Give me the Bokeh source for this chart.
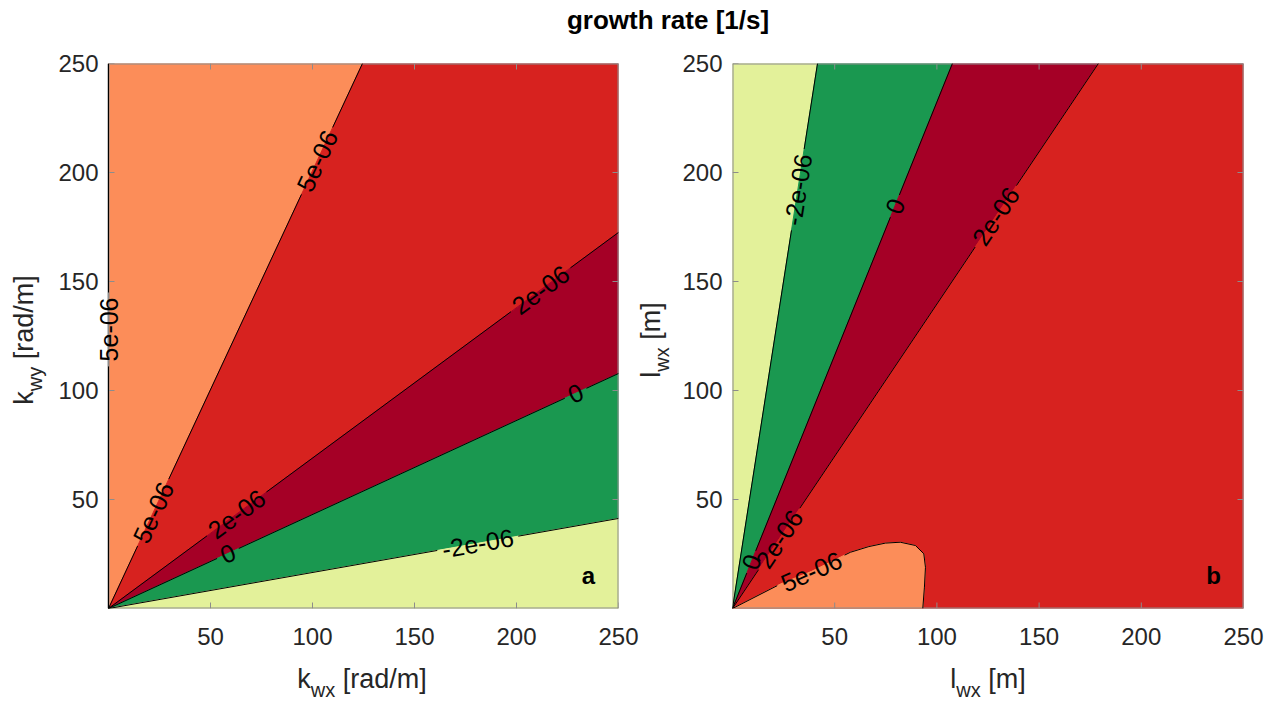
import math
import numpy as np
from bokeh.plotting import figure
from bokeh.models import Range1d, FixedTicker, Label, Div
from bokeh.layouts import row, column
from bokeh.embed import file_html
from bokeh.resources import INLINE
from bokeh.core.properties import value

# ------------------------------------------------------------------ data
title_text = "growth rate [1/s]"
ticks = [50, 100, 150, 200, 250]
axis_max = 250

# panel a : straight contours from the origin, (x, y) where each leaves the frame
a_levels = ["5e-06", "2e-06", "0", "-2e-06"]
a_end_x = [124.5, 250, 250, 250]
a_end_y = [250, 172.5, 107.8, 41.3]
a_fill = ["#FC8D59", "#D7221F", "#A50026", "#1A9850", "#E3F19A"]
a_label_x = [[103, 22], [212, 64.7], [229, 59], [181]]
a_label_y = [[205, 44], [146, 41], [98.7, 24.3], [30]]
a_edge_level = "5e-06"          # contour running along k_wx = 0
a_edge_label_y = [128]
a_tag = "a"
a_xlabel = ("k", "wx", " [rad/m]")
a_ylabel = ("k", "wy", " [rad/m]")

# panel b
b_levels = ["-2e-06", "0", "2e-06"]
b_end_x = [41.6, 107.6, 179]
b_end_y = [250, 250, 250]
b_fill = ["#E3F19A", "#1A9850", "#A50026", "#D7221F"]
b_label_x = [[34.7], [81, 9.6], [128.7, 22.7]]
b_label_y = [[191.7], [184, 21.2], [180, 32]]
b_closed_level = "5e-06"
b_closed_x = [0, 23.6, 38.6, 57.7, 66.7, 74.8, 82.1, 89.5, 93.6, 94.4, 93.9, 93.1]
b_closed_y = [0, 11.3, 17.0, 25.8, 28.4, 30.0, 30.4, 28.9, 25.1, 18.9, 9.8, 0]
b_closed_fill = "#FC8D59"
b_closed_label_x = [38.6]
b_closed_label_y = [17.0]
b_tag = "b"
b_xlabel = ("l", "wx", " [m]")
b_ylabel = ("l", "wx", " [m]")

# ------------------------------------------------------------------ style / layout
FONT = "Liberation Sans"
TICK_FS = 24
LAB_FS = 25
AX_FS = 27
SUB_FS = 20
SUB_SHIFT = 9
GREY = "#8c8c8c"
TXT = "#262626"
TOP_H = 40            # title strip
FIG_H = 620           # figures: page y 40 .. 660
XLAB_H = 702 - TOP_H - FIG_H
FRAME_TOP = 23
FRAME_H = 545
FRAME_W = 510
SX = FRAME_W / axis_max
SY = FRAME_H / axis_max
TICK_LEN = 6
YLAB_A_W = 50
YLAB_B_W = 30
EXT_PX = 12           # panel a: room left of k_wx = 0 for the edge contour label
EXT = EXT_PX / SX

CW = {"k": .5, "l": .222, "w": .722, "x": .5, "y": .5, " ": .278, "[": .278, "]": .278,
      "r": .333, "a": .556, "d": .556, "/": .278, "m": .833, "e": .556, "-": .333}


def text_len(s, size):
    return sum(CW.get(c, .556) for c in s) * size


def contour_pieces(xs, ys, lab_x, lab_y, text, size=LAB_FS, pad=5):
    px = np.asarray(xs, float) * SX
    py = np.asarray(ys, float) * SY
    seg = np.hypot(np.diff(px), np.diff(py))
    s = np.concatenate([[0.0], np.cumsum(seg)])
    L = s[-1]

    def at(t):
        t = min(max(t, 0.0), L)
        i = int(min(np.searchsorted(s, t, side="right") - 1, len(seg) - 1))
        f = (t - s[i]) / seg[i] if seg[i] > 0 else 0.0
        return px[i] + f * (px[i + 1] - px[i]), py[i] + f * (py[i + 1] - py[i])

    def project(qx, qy):
        best = (1e18, 0.0)
        for i in range(len(seg)):
            dx, dy = px[i + 1] - px[i], py[i + 1] - py[i]
            f = ((qx - px[i]) * dx + (qy - py[i]) * dy) / (seg[i] ** 2)
            f = min(max(f, 0.0), 1.0)
            d = math.hypot(px[i] + f * dx - qx, py[i] + f * dy - qy)
            if d < best[0]:
                best = (d, s[i] + f * seg[i])
        return best[1]

    gaps, labels = [], []
    for lx, ly in zip(lab_x, lab_y):
        t0 = project(lx * SX, ly * SY)
        half = text_len(text, size) / 2 + pad
        gaps.append((t0 - half, t0 + half))
        (ax_, ay_), (bx_, by_) = at(t0 - 6), at(t0 + 6)
        ang = math.atan2(by_ - ay_, bx_ - ax_)
        if ang > math.pi / 2 + 1e-9:
            ang -= math.pi
        if ang <= -math.pi / 2:
            ang += math.pi
        cx, cy = at(t0)
        labels.append((cx / SX, cy / SY, text, ang))
    gaps.sort()
    keep, cur = [], 0.0
    for ga, gb in gaps:
        if ga > cur:
            keep.append((cur, ga))
        cur = max(cur, gb)
    if cur < L:
        keep.append((cur, L))
    pieces = []
    for ka, kb in keep:
        pts = [at(ka)] + [(px[i], py[i]) for i in range(len(s)) if ka < s[i] < kb] + [at(kb)]
        pieces.append(([q[0] / SX for q in pts], [q[1] / SY for q in pts]))
    return pieces, labels


def perim(x, y):
    # position along the frame going clockwise from the top-left corner
    if y >= axis_max - 1e-9:
        return x
    return axis_max + (axis_max - y)


def fan_regions(end_x, end_y):
    corners = [(0, axis_max), (axis_max, axis_max), (axis_max, 0)]
    bounds = [(0, axis_max)] + list(zip(end_x, end_y)) + [(axis_max, 0)]
    polys = []
    for i in range(len(bounds) - 1):
        p0, p1 = bounds[i], bounds[i + 1]
        t0, t1 = perim(*p0), perim(*p1)
        mid = [c for c in corners if t0 < perim(*c) < t1]
        pts = [(0, 0), p0] + mid + [p1]
        polys.append(([q[0] for q in pts], [q[1] for q in pts]))
    return polys


def make_fig(width, left, right, x_start=0.0):
    p = figure(width=width, height=FIG_H, output_backend="svg", toolbar_location=None,
               x_range=Range1d(x_start, axis_max), y_range=Range1d(0, axis_max),
               min_border_left=left, min_border_right=right,
               min_border_top=FRAME_TOP, min_border_bottom=FIG_H - FRAME_TOP - FRAME_H)
    p.grid.visible = False
    p.outline_line_color = None
    p.background_fill_color = "white"
    p.border_fill_color = "white"
    for ax in (p.xaxis[0], p.yaxis[0]):
        ax.ticker = FixedTicker(ticks=ticks)
        ax.major_tick_in = 0
        ax.major_tick_out = 0
        ax.minor_tick_line_color = None
        ax.axis_line_color = None
        ax.major_label_text_font = FONT
        ax.major_label_text_font_size = f"{TICK_FS}px"
        ax.major_label_text_color = TXT
    p.xaxis[0].major_label_standoff = 19
    p.yaxis[0].major_label_standoff = 10 - int(round(-x_start * SX))
    return p


def box(p):
    # frame edges and inward tick marks on all four sides, at the tick values
    m = axis_max
    p.multi_line(xs=[[0, m], [0, m], [m, m], [0, 0]], ys=[[0, 0], [m, m], [0, m], [0, m]],
                 line_color=GREY, line_width=2)
    n = len(ticks)
    p.segment(x0=ticks + ticks, y0=[m] * n + [0] * n, x1=ticks + ticks,
              y1=[m - TICK_LEN / SY] * n + [TICK_LEN / SY] * n, line_color=GREY, line_width=1)
    p.segment(x0=[m] * n + [0] * n, y0=ticks + ticks, x1=[m - TICK_LEN / SX] * n + [TICK_LEN / SX] * n,
              y1=ticks + ticks, line_color=GREY, line_width=1)


def draw_text_labels(p, labels):
    if not labels:
        return
    p.text(x=[l[0] for l in labels], y=[l[1] for l in labels], text=[l[2] for l in labels],
           angle=[l[3] for l in labels], text_align="center", text_baseline="middle",
           text_font=value(FONT), text_font_size=f"{LAB_FS}px", text_color="black")


def draw_lines(p, pieces):
    p.multi_line(xs=[q[0] for q in pieces], ys=[q[1] for q in pieces],
                 line_color="black", line_width=1)


def add_tag(p, text, fx, page_y):
    p.add_layout(Label(x=fx, y=(TOP_H + FRAME_TOP + FRAME_H) - page_y, x_units="screen",
                       y_units="screen", text=text, text_font=FONT, text_font_style="bold",
                       text_font_size="24px", text_align="center", text_baseline="middle",
                       text_color="black"))


def label_html(parts):
    main, sub, rest = parts
    return (f'{main}<span style="font-size:{SUB_FS}px;position:relative;top:{SUB_SHIFT}px">'
            f'{sub}</span>{rest}')


TXT_STYLE = (f"white-space:nowrap;font-family:'{FONT}';font-size:{AX_FS}px;color:{TXT};"
             "line-height:30px")


def xlabel_div(parts, width, cx):
    html = (f'<div style="position:relative;width:{width}px;height:{XLAB_H}px">'
            f'<div style="position:absolute;left:{cx}px;top:4px;transform:translateX(-50%);{TXT_STYLE}">'
            f'{label_html(parts)}</div></div>')
    return Div(text=html, width=width, height=XLAB_H, margin=0)


def ylabel_div(parts, width, cx, cy):
    html = (f'<div style="position:relative;width:{width}px;height:{FIG_H}px">'
            f'<div style="position:absolute;left:{cx}px;top:{cy}px;'
            f'transform:translate(-50%,-50%) rotate(-90deg);{TXT_STYLE}">'
            f'{label_html(parts)}</div></div>')
    return Div(text=html, width=width, height=FIG_H, margin=0)


# ------------------------------------------------------------------ panel a
pa = make_fig(640 - YLAB_A_W, 108 - YLAB_A_W - EXT_PX, 22, x_start=-EXT)
polys = fan_regions(a_end_x, a_end_y)
pa.patches(xs=[q[0] for q in polys], ys=[q[1] for q in polys], fill_color=a_fill,
           line_color=a_fill, line_width=1)
all_pieces, all_labels = [], []
for lev, ex, ey, lx, ly in zip(a_levels, a_end_x, a_end_y, a_label_x, a_label_y):
    pcs, lbs = contour_pieces([0, ex], [0, ey], lx, ly, lev)
    all_pieces += pcs
    all_labels += lbs
edge_pcs, edge_lbs = contour_pieces([0, 0], [0, axis_max], [0] * len(a_edge_label_y),
                                    a_edge_label_y, a_edge_level)
box(pa)
draw_lines(pa, all_pieces + edge_pcs)
draw_text_labels(pa, all_labels + edge_lbs)
add_tag(pa, a_tag, 588 - 108 + EXT_PX, 575)

# ------------------------------------------------------------------ panel b
pb = make_fig(635 - YLAB_B_W, 92 - YLAB_B_W, 32)
polys = fan_regions(b_end_x, b_end_y)
pb.patches(xs=[q[0] for q in polys], ys=[q[1] for q in polys], fill_color=b_fill,
           line_color=b_fill, line_width=1)
pb.patch(x=b_closed_x, y=b_closed_y, fill_color=b_closed_fill, line_color=b_closed_fill, line_width=1)
all_pieces, all_labels = [], []
for lev, ex, ey, lx, ly in zip(b_levels, b_end_x, b_end_y, b_label_x, b_label_y):
    pcs, lbs = contour_pieces([0, ex], [0, ey], lx, ly, lev)
    all_pieces += pcs
    all_labels += lbs
pcs, lbs = contour_pieces(b_closed_x, b_closed_y, b_closed_label_x, b_closed_label_y, b_closed_level)
all_pieces += pcs
all_labels += lbs
box(pb)
draw_lines(pb, all_pieces)
draw_text_labels(pb, all_labels)
add_tag(pb, b_tag, 1213 - 732, 575)

# ------------------------------------------------------------------ title, axis labels, layout
title = Div(text=f'<div style="box-sizing:border-box;width:1275px;padding-left:61px;padding-top:6px;'
                 f'text-align:center;font-family:\'{FONT}\';font-weight:bold;font-size:26px;'
                 f'color:black;line-height:28px">{title_text}</div>',
            width=1275, height=TOP_H, margin=0)
ya = ylabel_div(a_ylabel, YLAB_A_W, 25, 340 - TOP_H)
yb = ylabel_div(b_ylabel, YLAB_B_W, 652 - 640, 340 - TOP_H)
xa = xlabel_div(a_xlabel, 640, 362)
xb = xlabel_div(b_xlabel, 635, 988 - 640)
layout = column(title, row(ya, pa, yb, pb, spacing=0), row(xa, xb, spacing=0), spacing=0)

open("out.html", "w").write(file_html(layout, INLINE))
